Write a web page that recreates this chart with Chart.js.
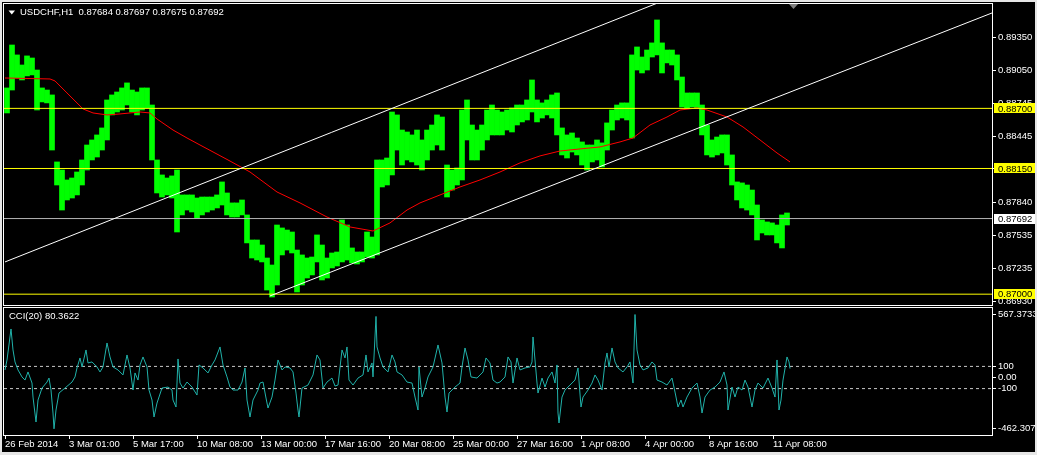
<!DOCTYPE html>
<html>
<head>
<meta charset="utf-8">
<script src="https://cdn.jsdelivr.net/npm/chart.js@4/dist/chart.umd.min.js"></script>
<style>
html,body{margin:0;padding:0;background:#e6e6e6;width:1037px;height:455px;overflow:hidden;}
#wrap{position:absolute;left:2px;top:2px;width:1033px;height:450px;background:#000;overflow:hidden;}
#c1{position:absolute;left:-2px;top:-2px;}
#c2{position:absolute;left:-2px;top:303px;}
</style>
</head>
<body>
<div id="wrap">
<canvas id="c1" width="1037" height="306"></canvas>
<canvas id="c2" width="1037" height="150"></canvas>
</div>
<script>
// ---------- DATA ----------
const symbolTitle = 'USDCHF,H1  0.87684 0.87697 0.87675 0.87692';
const cciTitle = 'CCI(20) 80.3622';
const BUCKET_HOURS = 5; // each bar below groups 5 hourly bars (high / low)

const priceHigh = [
0.88887,0.89280,0.89189,0.89097,0.89180,0.89161,0.89051,0.88887,0.88868,0.88823,
0.88210,0.88136,0.88045,0.88063,0.88118,0.88228,0.88365,0.88411,0.88457,0.88521,
0.88777,0.88823,0.88850,0.88887,0.88933,0.88868,0.88850,0.88887,0.88887,0.88731,
0.88228,0.88091,0.88063,0.88082,0.88136,0.87908,0.87908,0.87908,0.87880,0.87889,
0.87889,0.87889,0.87908,0.88027,0.87926,0.87835,0.87835,0.87862,0.87725,0.87496,
0.87496,0.87450,0.87331,0.87267,0.87633,0.87606,0.87587,0.87569,0.87404,0.87359,
0.87331,0.87340,0.87542,0.87450,0.87331,0.87377,0.87386,0.87679,0.87633,0.87423,
0.87386,0.87386,0.87569,0.87523,0.88228,0.88228,0.88246,0.88667,0.88640,0.88502,
0.88484,0.88457,0.88502,0.88411,0.88502,0.88548,0.88640,0.88621,0.88182,0.88136,
0.88155,0.88685,0.88777,0.88548,0.88502,0.88548,0.88685,0.88731,0.88685,0.88667,
0.88685,0.88704,0.88731,0.88731,0.88777,0.88960,0.88777,0.88750,0.88777,0.88823,
0.88841,0.88521,0.88457,0.88475,0.88429,0.88393,0.88365,0.88365,0.88411,0.88384,
0.88567,0.88685,0.88731,0.88750,0.88750,0.89189,0.89262,0.89170,0.89234,0.89299,
0.89509,0.89299,0.89234,0.89234,0.89189,0.88987,0.88841,0.88841,0.88841,0.88731,
0.88548,0.88411,0.88438,0.88457,0.88457,0.88274,0.88027,0.88018,0.87999,0.87953,
0.87816,0.87679,0.87661,0.87652,0.87633,0.87725,0.87743
];
const priceLow = [
0.88658,0.88868,0.88978,0.88960,0.88997,0.89006,0.88685,0.88759,0.88750,0.88319,
0.87999,0.87770,0.87862,0.87880,0.87908,0.87999,0.88136,0.88228,0.88255,0.88319,
0.88411,0.88640,0.88667,0.88685,0.88731,0.88667,0.88640,0.88685,0.88704,0.88228,
0.87926,0.87889,0.87908,0.87880,0.87569,0.87725,0.87770,0.87752,0.87697,0.87725,
0.87752,0.87770,0.87789,0.87816,0.87725,0.87706,0.87706,0.87725,0.87469,0.87331,
0.87313,0.87295,0.87038,0.86974,0.87084,0.87359,0.87404,0.87377,0.87020,0.87084,
0.87148,0.87176,0.87295,0.87130,0.87148,0.87240,0.87258,0.87295,0.87313,0.87286,
0.87276,0.87295,0.87340,0.87331,0.87359,0.87981,0.87999,0.88091,0.88319,0.88182,
0.88228,0.88210,0.88182,0.88136,0.88228,0.88319,0.88365,0.88319,0.87889,0.87953,
0.87999,0.88045,0.88411,0.88228,0.88228,0.88319,0.88411,0.88457,0.88457,0.88457,
0.88502,0.88484,0.88548,0.88576,0.88594,0.88667,0.88576,0.88612,0.88640,0.88612,
0.88457,0.88274,0.88246,0.88301,0.88274,0.88182,0.88136,0.88210,0.88228,0.88164,
0.88319,0.88502,0.88594,0.88612,0.88594,0.88429,0.89051,0.89024,0.89051,0.89170,
0.89189,0.89024,0.89116,0.89097,0.88960,0.88713,0.88704,0.88713,0.88704,0.88457,
0.88274,0.88255,0.88274,0.88292,0.88182,0.87999,0.87862,0.87789,0.87770,0.87725,
0.87496,0.87560,0.87542,0.87542,0.87469,0.87423,0.87633
];

const maHour  = [0,45,50,62,78,88,102,115,135,145,152,168,182,195,223,245,272,295,322,345,368,385,402,415,435,455,475,495,515,535,555,575,595,615,628,645,662,675,692,702,722,738,755,772,785];
const maValue = [0.88978,0.88969,0.88951,0.88841,0.88695,0.88658,0.88640,0.88649,0.88667,0.88658,0.88603,0.88502,0.88429,0.88365,0.88228,0.88118,0.87935,0.87835,0.87706,0.87615,0.87578,0.87652,0.87770,0.87835,0.87908,0.87981,0.88045,0.88118,0.88201,0.88265,0.88310,0.88329,0.88347,0.88393,0.88429,0.88548,0.88621,0.88685,0.88704,0.88685,0.88621,0.88530,0.88411,0.88292,0.88210];

const channelUpperHour  = [0, 660];
const channelUpperPrice = [0.87295, 0.89691];
const channelLowerHour  = [265, 987];
const channelLowerPrice = [0.86984, 0.89573];

const levelPrices = [0.88700, 0.88150, 0.87000];
const bidPrice = 0.87692;

const cciHour = [0,2,6,8,10,13,17,20,23,27,28,31,33,37,42,44,46,48,49,51,54,60,67,70,72,75,77,81,83,87,92,95,98,102,105,108,113,118,122,125,128,130,133,135,138,142,144,147,149,152,157,163,167,168,171,173,175,178,182,187,192,194,198,203,207,210,215,218,222,225,228,233,237,240,242,245,248,253,255,258,261,263,267,270,273,277,280,285,288,291,293,294,297,303,308,312,315,318,322,327,330,333,337,340,342,344,348,353,358,361,363,367,368,371,372,375,378,383,387,390,392,397,402,407,410,413,414,417,420,423,428,433,437,440,442,444,450,455,457,460,463,466,472,478,481,485,488,492,495,500,503,506,508,512,515,520,525,527,528,530,532,533,537,540,543,547,550,552,553,554,557,560,565,570,573,576,578,583,587,590,593,597,600,602,604,607,610,613,618,622,625,628,630,632,635,638,643,647,650,652,657,662,667,670,673,676,678,682,687,692,695,697,700,705,710,715,719,722,723,727,730,733,737,740,743,747,750,753,758,763,767,770,772,774,776,778,782,784,785];
const cciValue = [68,158,437,248,140,68,5,-23,50,-50,-176,-401,-203,-95,-41,-5,-113,-320,-462.3075,-293,-140,-95,-41,5,86,176,95,248,131,140,95,50,95,311,185,95,68,23,203,86,-113,41,-23,113,185,95,-113,-203,-356,-230,-95,-86,-113,-203,-266,167,-50,-95,-41,-86,-158,113,86,41,113,158,275,113,5,-86,-113,-113,-41,86,-203,-356,-203,-113,-50,-41,-185,-275,-176,-23,158,68,95,86,50,-140,-293,-356,-95,-68,23,203,158,-95,-41,-5,-77,-68,248,176,275,-23,-68,-5,23,203,50,131,5,550,275,176,95,50,203,140,50,23,-41,-50,-176,-293,95,-176,-95,5,95,293,131,-176,-311,-140,-86,-50,95,266,158,5,-5,50,176,131,-23,-50,-41,5,185,140,-50,176,68,86,95,140,365,158,-50,-140,-5,-86,-5,50,-50,113,-320,-410,-176,-113,-68,-23,86,-266,-176,-113,-50,23,-23,-113,131,221,95,266,140,86,50,95,140,-50,567.3733,248,113,68,86,140,113,-23,-41,-68,-5,-131,-266,-203,-266,-176,-95,-50,-176,-320,-176,-113,-86,-41,50,-68,-293,-86,-176,-86,-113,-23,-86,-266,-113,-50,-95,-5,-95,-176,158,-293,-203,-23,185,140,80.3622];
const cciLevels = [100, -100];

const priceTicks = [0.86930,0.87235,0.87535,0.87840,0.88150,0.88445,0.88745,0.89050,0.89350];
const cciTicks = [567.3733, 100, 0, -100, -462.3075];
const cciTickLabels = ['567.3733','100','0.00','-100','-462.3075'];
const xTickHours  = [0,64,128,192,256,320,384,448,512,576,640,704,768];
const xTickLabels = ['26 Feb 2014','3 Mar 01:00','5 Mar 17:00','10 Mar 08:00','13 Mar 00:00','17 Mar 16:00','20 Mar 08:00','25 Mar 00:00','27 Mar 16:00','1 Apr 08:00','4 Apr 00:00','8 Apr 16:00','11 Apr 08:00'];

// ---------- STYLE ----------
const X_MIN = -1, X_MAX = 987;
const FONT_FAMILY = '"Liberation Sans", Arial, sans-serif';
const FONT_SIZE = 9.5;
const FONT = {family: FONT_FAMILY, size: FONT_SIZE};
const CTX_FONT = FONT_SIZE + 'px ' + FONT_FAMILY;
const TXT = '#ffffff';
const AXIS_W = 45;

function fixY(s){ s.width = AXIS_W; s.paddingTop = 0; s.paddingBottom = 0; s.paddingLeft = 0; s.paddingRight = 0; }
function fixX(h){ return function(s){ s.height = h; s.paddingLeft = 0; s.paddingRight = 0; s.paddingTop = 0; s.paddingBottom = 0; }; }

function hline(v, color, dash){
  return {type:'line', data:[{x:X_MIN,y:v},{x:X_MAX,y:v}], borderColor:color, borderWidth:1,
          borderDash: dash || [], pointRadius:0, order:2, clip:0};
}

// ---------- MAIN PRICE CHART ----------
const mainPlugin = {
  id:'mainDeco',
  afterDraw(chart){
    const ctx = chart.ctx, y = chart.scales.y;
    ctx.save();
    ctx.strokeStyle = '#ffffff'; ctx.lineWidth = 1;
    ctx.strokeRect(3.5, 3.5, 989, 302);
    ctx.font = CTX_FONT; ctx.textBaseline = 'middle'; ctx.textAlign = 'left';
    const boxes = levelPrices.map(v => [v, '#ffff00']).concat([[bidPrice, '#ffffff']]);
    boxes.forEach(([v, bg]) => {
      const py = y.getPixelForValue(v);
      ctx.fillStyle = bg; ctx.fillRect(994, Math.round(py) - 5, 41, 10);
      ctx.fillStyle = '#000000'; ctx.fillText(v.toFixed(5), 998, py + 0.5);
    });
    ctx.fillStyle = '#ffffff';
    ctx.beginPath(); ctx.moveTo(8.5, 10.5); ctx.lineTo(15, 10.5); ctx.lineTo(11.75, 14.5); ctx.closePath(); ctx.fill();
    ctx.fillText(symbolTitle, 20, 12.5);
    ctx.fillStyle = '#808080';
    ctx.beginPath(); ctx.moveTo(789, 4); ctx.lineTo(798, 4); ctx.lineTo(793.5, 9); ctx.closePath(); ctx.fill();
    ctx.restore();
  }
};

new Chart(document.getElementById('c1'), {
  type: 'bar',
  data: {
    datasets: [
      {type:'bar', data: priceHigh.map((h, i) => ({x: i * BUCKET_HOURS + 2, y: [priceLow[i], h]})),
       backgroundColor:'#00ff00', borderWidth:0, barPercentage:1, categoryPercentage:1, order:10},
      {type:'line', data: maHour.map((h, i) => ({x:h, y:maValue[i]})), borderColor:'#ff0000', borderWidth:1, pointRadius:0, order:3, clip:0},
      ...levelPrices.map(v => hline(v, '#ffff00')),
      hline(bidPrice, '#b4b4b4'),
      {type:'line', data: channelUpperHour.map((h, i) => ({x:h, y:channelUpperPrice[i]})), borderColor:'#ffffff', borderWidth:1, pointRadius:0, order:1, clip:0},
      {type:'line', data: channelLowerHour.map((h, i) => ({x:h, y:channelLowerPrice[i]})), borderColor:'#ffffff', borderWidth:1, pointRadius:0, order:1, clip:0}
    ]
  },
  options: {
    responsive:false, animation:false, events:[],
    layout:{padding:{left:4, top:4, right:0, bottom:1}},
    plugins:{legend:{display:false}, tooltip:{enabled:false}},
    scales:{
      x:{type:'linear', display:false, min:X_MIN, max:X_MAX, offset:false},
      y:{type:'linear', position:'right', min:0.86901, max:0.89655,
         afterFit: fixY,
         afterBuildTicks: s => { s.ticks = priceTicks.map(v => ({value:v})); },
         ticks:{callback: v => Number(v).toFixed(5), color:TXT, font:FONT, padding:2, autoSkip:false},
         grid:{drawOnChartArea:false, drawTicks:true, tickLength:4, color:'#ffffff'},
         border:{display:false}}
    }
  },
  plugins:[mainPlugin]
});

// ---------- CCI CHART ----------
const cciPlugin = {
  id:'cciDeco',
  afterDraw(chart){
    const ctx = chart.ctx;
    ctx.save();
    ctx.strokeStyle = '#ffffff'; ctx.lineWidth = 1;
    ctx.strokeRect(3.5, 2.5, 989, 128);
    ctx.fillStyle = '#ffffff'; ctx.font = CTX_FONT;
    ctx.textBaseline = 'middle'; ctx.textAlign = 'left';
    ctx.fillText(cciTitle, 9, 11.5);
    ctx.restore();
  }
};

new Chart(document.getElementById('c2'), {
  type: 'line',
  data: {
    datasets: [
      ...cciLevels.map(v => hline(v, '#c8c8c8', [3, 3])),
      {type:'line', data: cciHour.map((h, i) => ({x:h, y:cciValue[i]})), borderColor:'#20b2aa', borderWidth:1, pointRadius:0, order:1, clip:0}
    ]
  },
  options: {
    responsive:false, animation:false, events:[],
    layout:{padding:{left:4, top:2, right:0, bottom:0}},
    plugins:{legend:{display:false}, tooltip:{enabled:false}},
    scales:{
      x:{type:'linear', position:'bottom', min:X_MIN, max:X_MAX, offset:false,
         afterFit: fixX(20),
         afterBuildTicks: s => { s.ticks = xTickHours.map(v => ({value:v})); },
         ticks:{callback: (v, i) => xTickLabels[i], color:TXT, font:FONT, align:'start', padding:0, maxRotation:0, minRotation:0, autoSkip:false},
         grid:{drawOnChartArea:false, drawTicks:true, tickLength:4, color:'#ffffff'},
         border:{display:false}},
      y:{type:'linear', position:'right', min:-518, max:635,
         afterFit: fixY,
         afterBuildTicks: s => { s.ticks = cciTicks.map(v => ({value:v})); },
         ticks:{callback: (v, i) => cciTickLabels[i], color:TXT, font:FONT, padding:2, autoSkip:false},
         grid:{drawOnChartArea:false, drawTicks:true, tickLength:4, color:'#ffffff'},
         border:{display:false}}
    }
  },
  plugins:[cciPlugin]
});
</script>
</body>
</html>
